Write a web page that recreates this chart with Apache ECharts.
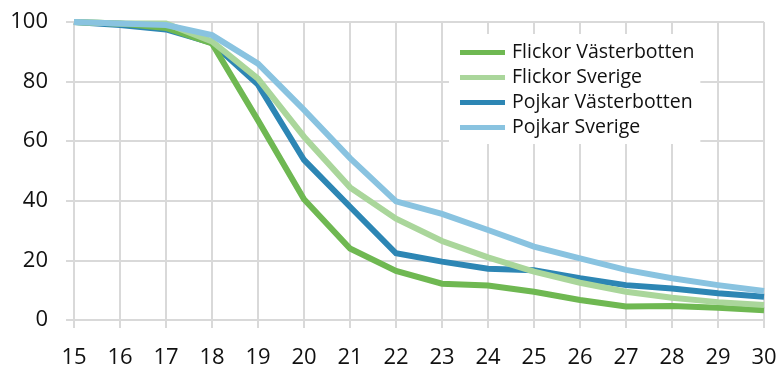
<!DOCTYPE html>
<html><head><meta charset="utf-8">
<script src="https://cdn.jsdelivr.net/npm/echarts@6/dist/echarts.min.js"></script>
<style>html,body{margin:0;padding:0;background:#fff}#c{width:780px;height:366px}</style>
</head><body><div id="c"></div>
<script>
const ages = ['15','16','17','18','19','20','21','22','23','24','25','26','27','28','29','30'];
const flickorVasterbotten = [100, 99.5, 98, 92.8, 67, 40.5, 24, 16.5, 12.2, 11.6, 9.5, 6.7, 4.5, 4.7, 4.1, 3.3];
const flickorSverige = [100, 99.5, 99.5, 93.5, 81, 61.5, 44.5, 34, 26.5, 21, 16.2, 12.5, 9.5, 7.5, 6, 5];
const pojkarVasterbotten = [100, 99, 97.5, 93, 79, 53.7, 38, 22.4, 19.6, 17.2, 16.7, 14, 11.7, 10.6, 9, 7.8];
const pojkarSverige = [100, 99.5, 99, 95.6, 86, 70.5, 54.3, 39.8, 35.6, 30.2, 24.6, 20.7, 16.8, 14, 11.7, 9.7];
const yTicks = [0, 20, 40, 60, 80, 100];

const chart = echarts.init(document.getElementById('c'), null, {renderer: 'canvas'});
const font = 'Open Sans';
const grey = '#d9d9d9';
function mk(name, data, color, z) {
  return { name, type: 'line', data, z, symbol: 'none', smooth: false,
    lineStyle: { color, width: 6, cap: 'butt', join: 'miter' }, itemStyle: { color } };
}
chart.setOption({
  animation: false,
  grid: { left: 74, right: 16, top: 22, bottom: 46, containLabel: false, outerBoundsMode: 'none' },
  legend: {
    orient: 'vertical', left: 449, top: 34,
    backgroundColor: '#ffffff', padding: [6, 6, 4, 11],
    icon: 'rect', itemWidth: 45, itemHeight: 5, itemGap: 0,
    textStyle: { fontFamily: font, fontSize: 19.5, color: '#111', lineHeight: 25, padding: [0,0,0,2] },
    data: ['Flickor Västerbotten', 'Flickor Sverige', 'Pojkar Västerbotten', 'Pojkar Sverige']
  },
  xAxis: {
    type: 'category', data: ages, boundaryGap: false,
    axisLine: { lineStyle: { color: grey, width: 2 } },
    axisTick: { show: true, length: 8, lineStyle: { color: grey, width: 2 } },
    axisLabel: { fontFamily: font, fontSize: 22, color: '#111', margin: 27 },
    splitLine: { show: true, lineStyle: { color: grey, width: 2 } }
  },
  yAxis: {
    type: 'value', min: yTicks[0], max: yTicks[yTicks.length - 1], interval: 20,
    axisLine: { show: true, lineStyle: { color: grey, width: 2 } },
    axisTick: { show: true, length: 8, lineStyle: { color: grey, width: 2 } },
    axisLabel: { fontFamily: font, fontSize: 22, color: '#111', margin: 26 },
    splitLine: { show: true, lineStyle: { color: grey, width: 2 } }
  },
  series: [
    mk('Flickor Västerbotten', flickorVasterbotten, '#6fb852', 3),
    mk('Flickor Sverige', flickorSverige, '#aad69b', 4),
    mk('Pojkar Västerbotten', pojkarVasterbotten, '#2d86b4', 2),
    mk('Pojkar Sverige', pojkarSverige, '#89c3e0', 5)
  ]
});
</script></body></html>
